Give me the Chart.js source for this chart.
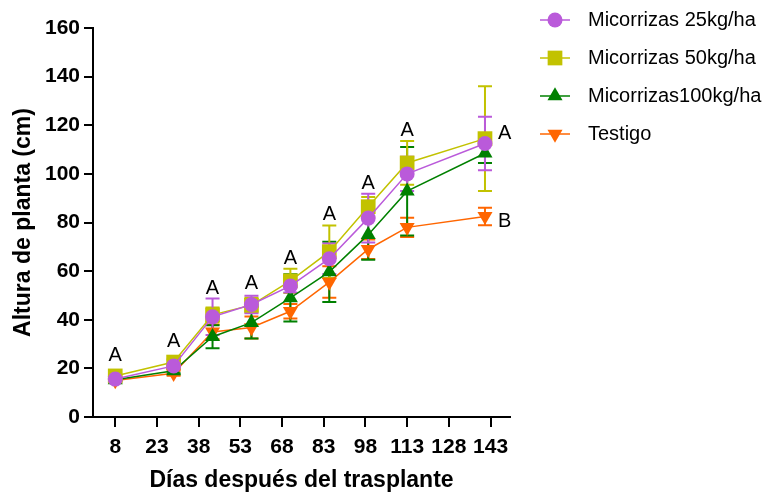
<!DOCTYPE html>
<html lang="es">
<head>
<meta charset="utf-8">
<title>Altura de planta</title>
<script src="https://cdn.jsdelivr.net/npm/chart.js@4.4.0/dist/chart.umd.min.js"></script>
<style>
    html, body { margin: 0; padding: 0; background: #fff; }
    #wrap { width: 766px; height: 495px; }
</style>
</head>
<body>
<div id="wrap"><canvas id="altura-chart"></canvas></div>
<script>
"use strict";

// días después del trasplante
const dias = [8, 29, 43, 57, 71, 85, 99, 113, 141];
const xTicks = [8, 23, 38, 53, 68, 83, 98, 113, 128, 143];
const yTicks = [0, 20, 40, 60, 80, 100, 120, 140, 160];

const series = ['Micorrizas 25kg/ha', 'Micorrizas 50kg/ha', 'Micorrizas100kg/ha', 'Testigo'];

// altura media (cm) y error de cada tratamiento
const micorrizas25 = [15.6, 21.0, 41.2, 46.3, 53.9, 65.1, 81.8, 100.0, 112.5];
const micorrizas25Err = [0.5, 1.0, 7.5, 3.6, 2.7, 6.3, 10.0, 7.0, 11.0];
const micorrizas50 = [16.9, 22.6, 42.0, 46.0, 56.0, 68.0, 86.5, 104.5, 114.5];
const micorrizas50Err = [0.5, 1.0, 3.0, 3.0, 5.0, 10.8, 4.0, 9.0, 21.5];
const micorrizas100 = [15.3, 19.0, 33.0, 38.8, 49.0, 59.7, 75.0, 92.9, 108.5];
const micorrizas100Err = [0.5, 1.0, 4.7, 6.5, 9.7, 12.4, 10.3, 18.2, 4.0];
const testigo = [15.0, 18.0, 35.0, 36.8, 43.5, 55.5, 69.0, 78.0, 82.5];
const testigoErr = [0.5, 1.0, 3.0, 4.5, 3.0, 6.5, 4.0, 4.0, 3.6];

// letras de significancia
const letrasGrupo = ['A', 'A', 'A', 'A', 'A', 'A', 'A', 'A', ''];
const letrasFinal = ['', 'A', '', 'B'];

const FONT = "'Liberation Sans', Arial, sans-serif";

function toPoints(values) {
    return values.map((v, i) => ({x: dias[i], y: v}));
}

/**
 * Barras de error (media ± error) de cada serie
 */
const errorBars = {
    id: 'errorBars',
    beforeDatasetsDraw(chart) {
        const {ctx, scales: {x, y}} = chart;
        ctx.save();
        for (let d = chart.data.datasets.length - 1; d >= 0; d--) {
            const ds = chart.data.datasets[d];
            ctx.strokeStyle = ds.borderColor;
            ctx.lineWidth = 2;
            ds.errors.forEach((e, i) => {
                const px = x.getPixelForValue(ds.data[i].x);
                const top = y.getPixelForValue(ds.data[i].y + e);
                const bottom = y.getPixelForValue(ds.data[i].y - e);
                ctx.beginPath();
                ctx.moveTo(px, top);
                ctx.lineTo(px, bottom);
                ctx.moveTo(px - 7, top);
                ctx.lineTo(px + 7, top);
                ctx.moveTo(px - 7, bottom);
                ctx.lineTo(px + 7, bottom);
                ctx.stroke();
            });
        }
        ctx.restore();
    }
};

/**
 * Letras encima de cada fecha y al lado del último punto
 */
const letras = {
    id: 'letras',
    afterDatasetsDraw(chart) {
        const {ctx, scales: {x, y}} = chart;
        const datasets = chart.data.datasets;
        ctx.save();
        ctx.fillStyle = '#000';
        ctx.font = '20px ' + FONT;

        ctx.textAlign = 'center';
        ctx.textBaseline = 'alphabetic';
        letrasGrupo.forEach((txt, i) => {
            if (!txt) return;
            let top = Infinity;
            datasets.forEach(ds => {
                const v = ds.data[i].y;
                top = Math.min(top, y.getPixelForValue(v + ds.errors[i]), y.getPixelForValue(v) - 10);
            });
            ctx.fillText(txt, x.getPixelForValue(dias[i]), top - 5);
        });

        const last = dias.length - 1;
        ctx.textAlign = 'left';
        ctx.textBaseline = 'middle';
        letrasFinal.forEach((txt, d) => {
            if (!txt) return;
            const py = y.getPixelForValue(datasets[d].data[last].y);
            ctx.fillText(txt, x.getPixelForValue(dias[last]) + 13, py + (txt === 'B' ? 5 : -5));
        });
        ctx.restore();
    }
};

/**
 * Leyenda a la derecha: línea con el símbolo de cada serie
 */
const leyenda = {
    id: 'leyenda',
    afterDraw(chart) {
        const {ctx} = chart;
        ctx.save();
        chart.data.datasets.forEach((ds, i) => {
            const cy = 20 + i * 38;
            ctx.strokeStyle = ds.borderColor;
            ctx.lineWidth = 1.5;
            ctx.beginPath();
            ctx.moveTo(540, cy);
            ctx.lineTo(570, cy);
            ctx.stroke();

            ctx.fillStyle = ds.backgroundColor;
            ctx.strokeStyle = ds.backgroundColor;
            Chart.helpers.drawPoint(ctx, {
                pointStyle: ds.pointStyle,
                radius: ds.pointRadius,
                rotation: ds.pointRotation || 0,
                borderWidth: 0
            }, 555, cy);

            ctx.fillStyle = '#000';
            ctx.font = '20px ' + FONT;
            ctx.textAlign = 'left';
            ctx.textBaseline = 'middle';
            ctx.fillText(ds.label, 588, cy);
        });
        ctx.restore();
    }
};

const colores = ['#BA5ADA', '#C2C200', '#008000', '#FF6600'];
const estilos = [
    {pointStyle: 'circle', pointRadius: 7.5, pointRotation: 0},
    {pointStyle: 'rect', pointRadius: 10.4, pointRotation: 0},
    {pointStyle: 'triangle', pointRadius: 8.7, pointRotation: 0},
    {pointStyle: 'triangle', pointRadius: 8.7, pointRotation: 180}
];
const valores = [micorrizas25, micorrizas50, micorrizas100, testigo];
const errores = [micorrizas25Err, micorrizas50Err, micorrizas100Err, testigoErr];

const datasets = series.map((nombre, i) => ({
    label: nombre,
    data: toPoints(valores[i]),
    errors: errores[i],
    borderColor: colores[i],
    backgroundColor: colores[i],
    pointBackgroundColor: colores[i],
    pointBorderWidth: 0,
    pointStyle: estilos[i].pointStyle,
    pointRadius: estilos[i].pointRadius,
    pointHoverRadius: estilos[i].pointRadius,
    pointRotation: estilos[i].pointRotation,
    borderWidth: 1.5,
    tension: 0,
    fill: false
}));

const tickFont = {family: FONT, size: 21, weight: 'bold'};
const titleFont = {family: FONT, size: 23, weight: 'bold'};

new Chart(document.getElementById('altura-chart'), {
    type: 'line',
    data: {datasets: datasets},
    options: {
        responsive: true,
        maintainAspectRatio: false,
        animation: false,
        events: [],
        layout: {padding: {top: 28, right: 256, bottom: 0, left: 0}},
        plugins: {
            legend: {display: false},
            tooltip: {enabled: false}
        },
        scales: {
            x: {
                type: 'linear',
                min: 0,
                max: 150,
                afterBuildTicks: scale => {
                    scale.ticks = xTicks.map(v => ({value: v}));
                },
                afterFit: scale => {
                    scale.height = 78;
                },
                border: {display: true, color: '#000', width: 2},
                grid: {drawOnChartArea: false, drawTicks: true, tickLength: 10, color: '#000', lineWidth: 2},
                ticks: {color: '#000', font: tickFont, padding: 8, maxRotation: 0, autoSkip: false},
                title: {
                    display: true,
                    text: 'Días después del trasplante',
                    color: '#000',
                    font: titleFont,
                    padding: {top: 0, bottom: 1}
                }
            },
            y: {
                type: 'linear',
                min: 0,
                max: 160,
                afterBuildTicks: scale => {
                    scale.ticks = yTicks.map(v => ({value: v}));
                },
                afterFit: scale => {
                    scale.width = 93;
                },
                border: {display: true, color: '#000', width: 2},
                grid: {drawOnChartArea: false, drawTicks: true, tickLength: 9, color: '#000', lineWidth: 2},
                ticks: {color: '#000', font: tickFont, padding: 4},
                title: {
                    display: true,
                    text: 'Altura de planta (cm)',
                    color: '#000',
                    font: titleFont,
                    padding: {top: 10, bottom: 0}
                }
            }
        }
    },
    plugins: [errorBars, letras, leyenda]
});
</script>
</body>
</html>
